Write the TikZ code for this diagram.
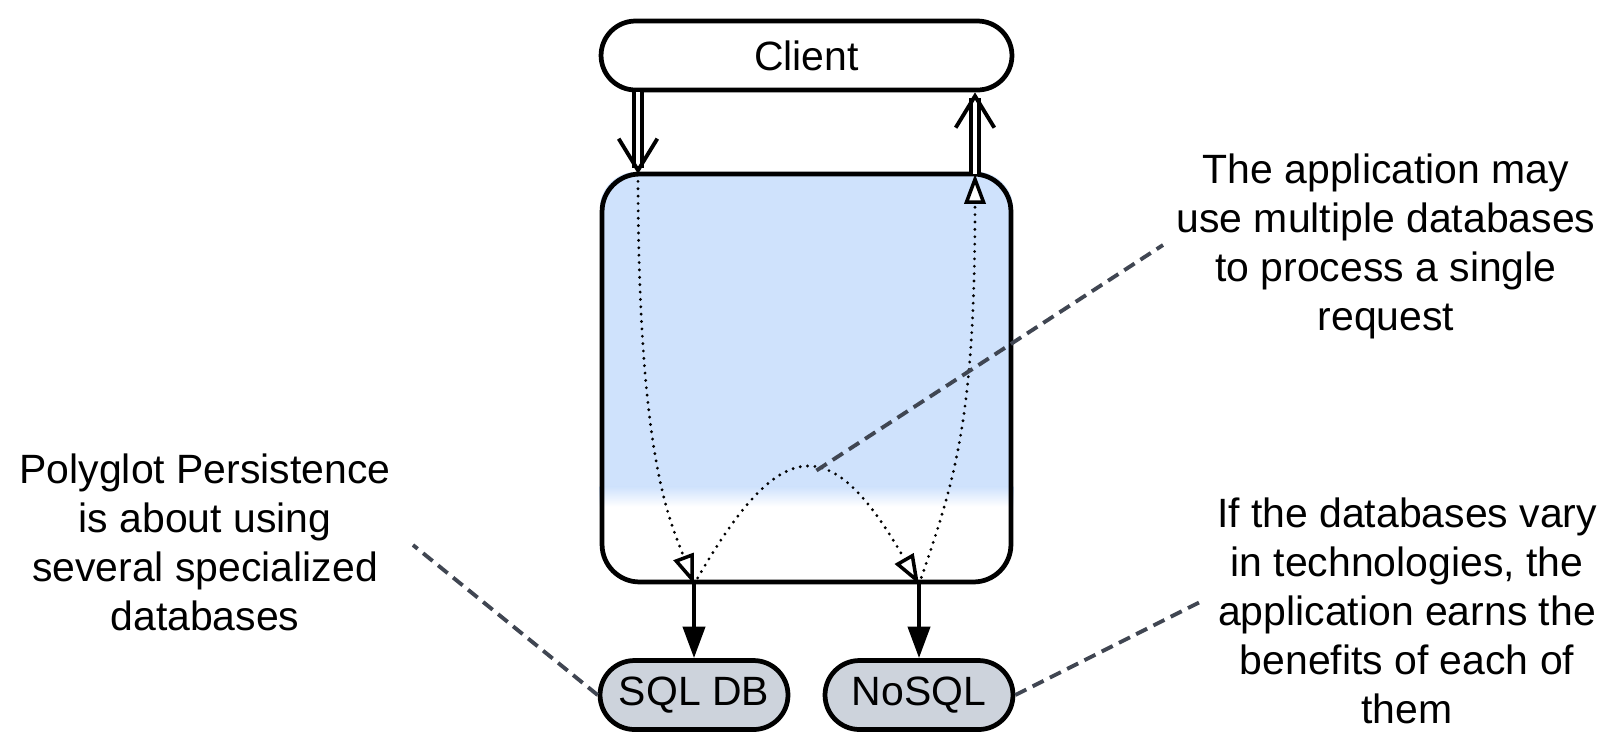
\documentclass[tikz,border=0pt]{standalone}
\usepackage{fontspec}
\setmainfont{Liberation Sans}
\usepackage{tikz}
\usetikzlibrary{arrows.meta, calc, backgrounds}
\definecolor{appblue}{RGB}{207,226,252}
\definecolor{dbgray}{RGB}{205,211,220}
\definecolor{leadgray}{RGB}{64,70,82}
\def\px{0.02cm}

\begin{document}
\begin{tikzpicture}[x=\px, y=-\px, font=\fontsize{23.3}{27.9}\selectfont,
	pill/.style={draw, line width=2.7pt, rounded corners=0.69cm, minimum height=1.38cm, inner sep=0pt},
	db/.style={pill, fill=dbgray, minimum width=3.76cm},
	flow/.style={line width=2.5pt, -{Triangle[length=18pt, width=12.5pt]}},
	dbl/.style={double, double distance=2.8pt, line width=1.9pt, -{Straight Barb[length=18pt, width=22pt, line width=2.2pt]}},
	dots/.style={line width=1.8pt, line cap=round, dash pattern=on 0pt off 4.2pt, -{Triangle[length=17pt, width=12pt, fill=white, line width=2pt]}},
	leader/.style={leadgray, line width=2.2pt, dash pattern=on 7pt off 4pt},
	note/.style={align=center}]

	\useasboundingbox (0,0) rectangle (1618,752);

	\node[pill, minimum width=8.22cm] (client) at (806.5,55.5) {Client};
	\node[draw, line width=2.7pt, rounded corners=0.75cm, minimum width=8.18cm, minimum height=8.16cm] (app) at (806.5,378) {};
	\node[db] (sql) at (694,695) {SQL DB};
	\node[db] (nosql) at (919,695) {NoSQL};

	\begin{scope}[on background layer]
		\clip[rounded corners=0.75cm] (app.north west) rectangle (app.south east);
		\fill[appblue] (app.north west) rectangle ([yshift=-6.3cm]app.north east);
		\shade[top color=appblue, bottom color=white] ([yshift=-6.3cm]app.north west) rectangle ([yshift=-6.7cm]app.north east);
	\end{scope}

	\coordinate (reqin) at (638,174);
	\coordinate (reqout) at (975,174);
	\coordinate (sqlin) at (sql.north |- app.south);
	\coordinate (nosqlin) at (nosql.north |- app.south);

	\draw[dbl] (reqin |- client.south) -- (reqin);
	\draw[dbl] (reqout) -- (reqout |- client.south);

	\draw[flow] (sqlin) -- (sql.north);
	\draw[flow] (nosqlin) -- (nosql.north);

	\draw[dots] (reqin) .. controls (638,460) and (670,520) .. (sqlin);
	\draw[dots] (sqlin) .. controls (781,431) and (831,431) .. (nosqlin) coordinate[pos=0.55] (peak);
	\draw[dots] (nosqlin) .. controls (955,480) and (975,420) .. (reqout);

	\coordinate (lnote) at (413,545);
	\coordinate (tnote) at (1163,245);
	\coordinate (bnote) at (1200,602);
	\draw[leader] (sql.west) -- (lnote);
	\draw[leader] (peak) -- (tnote);
	\draw[leader] (nosql.east) -- (bnote);

	\node[note] (polyglot) at (205,542) {Polyglot Persistence\\is about using\\several specialized\\databases};
	\node[note] (multi) at (1386,246.5) {The application may\\use multiple databases\\to process a single\\request};
	\node[note] (benefit) at (1407,611) {If the databases vary\\in technologies, the\\application earns the\\benefits of each of\\them};

\end{tikzpicture}
\end{document}
